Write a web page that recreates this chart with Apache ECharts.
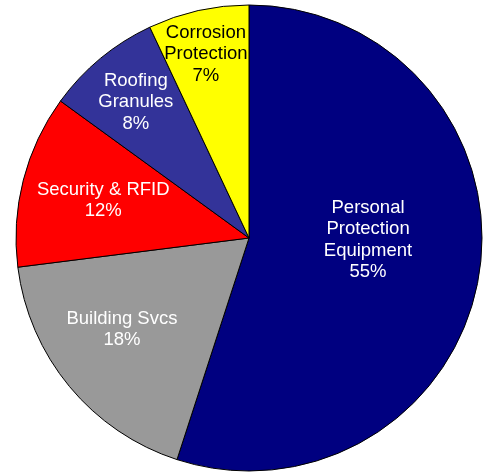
<!DOCTYPE html>
<html>
<head>
<meta charset="utf-8">
<script src="https://cdn.jsdelivr.net/npm/echarts@6/dist/echarts.min.js"></script>
<style>
  html, body { margin: 0; padding: 0; background: #fff; }
  #chart { width: 487px; height: 474px; }
</style>
</head>
<body>
<div id="chart"></div>
<script>
  // segment names & shares (%)
  var names = ['Personal\nProtection\nEquipment', 'Building Svcs', 'Security & RFID', 'Roofing\nGranules', 'Corrosion\nProtection'];
  var values = [55, 18, 12, 8, 7];
  var colors = ['#000080', '#999999', '#ff0000', '#333399', '#ffff00'];
  var textColors = ['#ffffff', '#ffffff', '#ffffff', '#ffffff', '#000000'];
  // nudges so the labels sit where the original puts them
  var labelOffsets = [[1, -17], [-35, 15], [-30, -8], [-37, -44], [-17, -67]];

  var FONT = 18.5;
  var chart = echarts.init(document.getElementById('chart'));

  var data = [];
  for (var i = 0; i < names.length; i++) {
    data.push({
      name: names[i],
      value: values[i],
      itemStyle: { color: colors[i] },
      label: { color: textColors[i], offset: labelOffsets[i] }
    });
  }
  // the yellow slice is too narrow for echarts' inside-label fit test,
  // so start it small and grow it back in labelLayout
  data[4].label.fontSize = 9;

  chart.setOption({
    animation: false,
    series: [{
      type: 'pie',
      center: [249, 238],
      radius: [0, 233],
      startAngle: 90,
      clockwise: true,
      avoidLabelOverlap: false,
      itemStyle: {
        borderColor: '#000',
        borderWidth: 1
      },
      label: {
        show: true,
        position: 'inside',
        fontFamily: 'Liberation Sans, Arial, sans-serif',
        fontSize: FONT,
        lineHeight: 21.5,
        align: 'center',
        formatter: function (p) {
          return p.name + '\n' + p.value + '%';
        }
      },
      labelLayout: function (p) {
        return { fontSize: FONT };
      },
      labelLine: { show: false },
      emphasis: { disabled: true },
      data: data
    }]
  });
</script>
</body>
</html>
